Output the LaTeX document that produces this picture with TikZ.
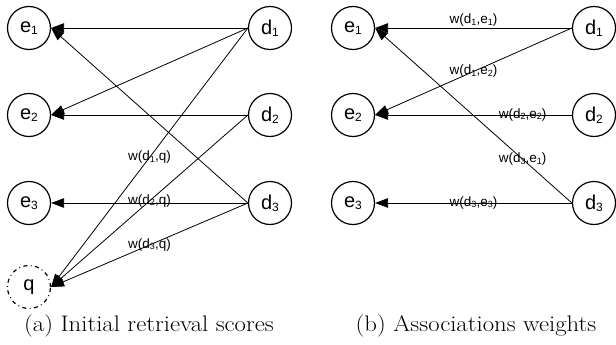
\documentclass[tikz,border=0pt]{standalone}
\usepackage{fontspec}
\newfontfamily\diagfont{Liberation Sans}
\usetikzlibrary{arrows.meta}
% subscripts for node names and for edge weights
\newcommand{\nsub}[1]{\raisebox{-2pt}{\fontsize{12}{12}\selectfont #1}}
\newcommand{\lsub}[1]{\raisebox{-1.5pt}{\fontsize{9}{9}\selectfont #1}}
\begin{document}
\begin{tikzpicture}[x=1pt,y=-1pt,
  vertex/.style={circle, draw, line width=1.2pt, minimum size=43pt, inner sep=0pt,
    font=\diagfont\fontsize{20}{20}\selectfont},
  query/.style={vertex, dash pattern=on 4pt off 3.5pt on 0.8pt off 3.5pt},
  link/.style={line width=0.8pt, -{Triangle[length=13pt,width=9.5pt]}},
  weight/.style={font=\diagfont\fontsize{13.5}{14}\selectfont, inner sep=1pt},
  caption/.style={font=\fontsize{22.5}{22.5}\selectfont}]
\useasboundingbox (0,0) rectangle (616,345);

% (a) documents to entities and to the query
\node[vertex] (ae1) at (29,28)  {e\nsub{1}};
\node[vertex] (ae2) at (29,115) {e\nsub{2}};
\node[vertex] (ae3) at (29,203) {e\nsub{3}};
\node[query]  (aq)  at (29,287) {q};
\node[vertex] (ad1) at (270,28)  {d\nsub{1}};
\node[vertex] (ad2) at (270,115) {d\nsub{2}};
\node[vertex] (ad3) at (270,203) {d\nsub{3}};

\draw[link] (ad1.west) -- (ae1.east);
\draw[link] (ad1.west) -- (ae2.east);
\draw[link] (ad2.west) -- (ae2.east);
\draw[link] (ad3.west) -- (ae1.east);
\draw[link] (ad3.west) -- (ae3.east);
\draw[link] (ad1.west) -- node[weight] {w(d\lsub{1},q)} (aq.east);
\draw[link] (ad2.west) -- node[weight] {w(d\lsub{2},q)} (aq.east);
\draw[link] (ad3.west) -- node[weight] {w(d\lsub{3},q)} (aq.east);

\node[caption] (capa) at (149,326) {\scalebox{1.1}[1]{(a) Initial retrieval scores}};

% (b) document-entity association weights
\node[vertex] (be1) at (353,28)  {e\nsub{1}};
\node[vertex] (be2) at (353,115) {e\nsub{2}};
\node[vertex] (be3) at (353,203) {e\nsub{3}};
\node[vertex] (bd1) at (594,28)  {d\nsub{1}};
\node[vertex] (bd2) at (594,115) {d\nsub{2}};
\node[vertex] (bd3) at (594,203) {d\nsub{3}};

\draw[link] (bd1.west) -- node[weight, above] {w(d\lsub{1},e\lsub{1})} (be1.east);
\draw[link] (bd1.west) -- node[weight] {w(d\lsub{1},e\lsub{2})} (be2.east);
\draw[link] (bd2.west) -- node[weight, pos=0.25] {w(d\lsub{2},e\lsub{2})} (be2.east);
\draw[link] (bd3.west) -- node[weight, pos=0.25] {w(d\lsub{3},e\lsub{1})} (be1.east);
\draw[link] (bd3.west) -- node[weight] {w(d\lsub{3},e\lsub{3})} (be3.east);

\node[caption] (capb) at (476,326) {\scalebox{1.1}[1]{(b) Associations weights}};
\end{tikzpicture}
\end{document}
